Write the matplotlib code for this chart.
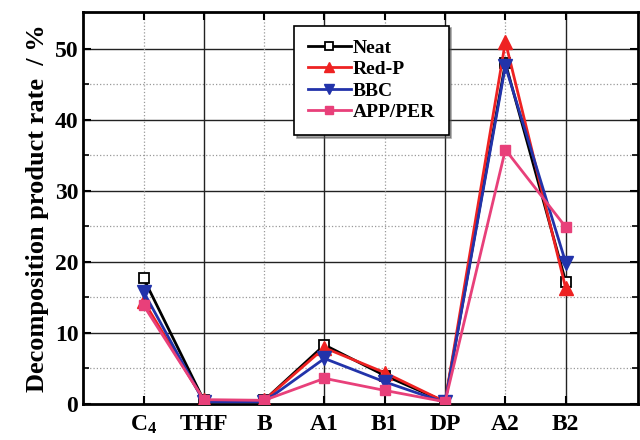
import numpy as np
import matplotlib.pyplot as plt

plt.rcParams['font.family'] = ['Liberation Serif', 'DejaVu Serif']
plt.rcParams['font.weight'] = 'bold'
plt.rcParams['mathtext.fontset'] = 'custom'
plt.rcParams['mathtext.rm'] = 'Liberation Serif:bold'
plt.rcParams['mathtext.it'] = 'Liberation Serif:bold'
plt.rcParams['mathtext.bf'] = 'Liberation Serif:bold'

# data
categories = ['C$_4$', 'THF', 'B', 'A1', 'B1', 'DP', 'A2', 'B2']
neat = [17.7, 0.5, 0.5, 8.3, 4.0, 0.3, 48.0, 17.2]
red_p = [14.5, 0.5, 0.5, 7.9, 4.4, 0.3, 51.0, 16.3]
bbc = [15.8, 0.3, 0.3, 6.4, 3.1, 0.2, 47.6, 19.9]
app_per = [13.9, 0.6, 0.5, 3.6, 1.9, 0.3, 35.8, 24.9]

x = np.arange(len(categories))

fig = plt.figure(figsize=(6.4, 4.4), dpi=100)
ax = fig.add_axes([0.130, 0.082, 0.867, 0.891])

# grid: solid at majors, dotted at minors
for v in range(5, 55, 5):
    if v % 10 == 0:
        ax.axhline(v, color='#222222', lw=1.0, zorder=0)
    else:
        ax.axhline(v, color='#999999', lw=0.9, ls=':', zorder=0)
for i in x:
    if i % 2 == 1:
        ax.axvline(i, color='#222222', lw=1.0, zorder=0)
    else:
        ax.axvline(i, color='#999999', lw=0.9, ls=':', zorder=0)

ax.plot(x, neat, color='black', lw=2, marker='s', ms=7.5, mfc='white',
        mec='black', mew=1.3, label='Neat', zorder=3)
ax.plot(x, red_p, color='#ee2222', lw=2, marker='^', ms=10,
        label='Red-P', zorder=4)
ax.plot(x, bbc, color='#2233aa', lw=2, marker='v', ms=10,
        label='BBC', zorder=5)
ax.plot(x, app_per, color='#e8407a', lw=2, marker='s', ms=7.5,
        label='APP/PER', zorder=6)

ax.set_xlim(-1.0, 8.2)
ax.set_ylim(0, 55.2)
ax.set_xticks(x)
ax.set_xticklabels(categories, fontsize=17, fontweight='bold')
ax.set_yticks(range(0, 51, 10))
ax.set_yticks(range(5, 55, 10), minor=True)
ax.tick_params(axis='y', labelsize=17, direction='in', length=6, width=1.5,
               right=True)
ax.tick_params(axis='y', which='minor', direction='in', length=4, width=1.2,
               right=True)
ax.tick_params(axis='x', direction='in', length=6, width=1.5, top=True,
               pad=7)
for s in ax.spines.values():
    s.set_linewidth(2)

ax.set_ylabel('Decomposition product rate  / %', fontsize=19,
              fontweight='bold', labelpad=4)

leg = ax.legend(loc='upper left', bbox_to_anchor=(0.363, 0.99),
                prop={'weight': 'bold', 'size': 14},
                frameon=True, fancybox=False, shadow=True,
                handlelength=2.2, borderpad=0.7, labelspacing=0.2,
                handletextpad=0.1, markerscale=0.75)
leg.get_frame().set_edgecolor('black')
leg.get_frame().set_linewidth(1.2)

fig.savefig('out.png', dpi=100)
